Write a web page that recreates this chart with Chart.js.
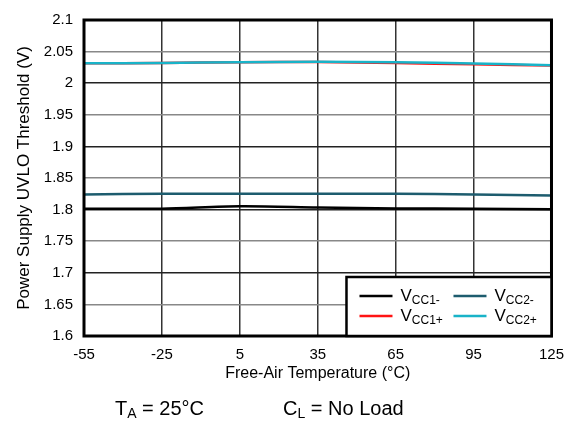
<!DOCTYPE html>
<html>
<head>
<meta charset="utf-8">
<script src="https://cdn.jsdelivr.net/npm/chart.js@4/dist/chart.umd.min.js"></script>
<style>
  html,body{margin:0;padding:0;background:#fff;}
  #wrap{width:574px;height:421px;}
</style>
</head>
<body>
<div id="wrap"><canvas id="uvlo-chart" width="574" height="421"></canvas></div>
<script>
/* UVLO threshold vs free-air temperature */

// ── data ──
var temps   = [-55, -25, 5, 35, 65, 95, 125];
var vcc1Neg = [1.8015, 1.8015, 1.8053, 1.8035, 1.8018, 1.8015, 1.8005];
var vcc1Pos = [2.0315, 2.0320, 2.0332, 2.0335, 2.0318, 2.0298, 2.0282];
var vcc2Neg = [1.8240, 1.8250, 1.8252, 1.8252, 1.8250, 1.8240, 1.8222];
var vcc2Pos = [2.0315, 2.0320, 2.0332, 2.0338, 2.0332, 2.0312, 2.0285];
var xTicks  = [-55, -25, 5, 35, 65, 95, 125];
var yTicks  = ['1.6','1.65','1.7','1.75','1.8','1.85','1.9','1.95','2','2.05','2.1'];

var FONT = 'Arial, "Liberation Sans", sans-serif';

function pts(ys){
  return temps.map(function(t,i){ return {x:t, y:ys[i]}; });
}

// legend entries: main letter + subscript
var legendItems = [
  {main:'V', sub:'CC1-', color:'#000000', col:0, row:0},
  {main:'V', sub:'CC1+', color:'#ff1414', col:0, row:1},
  {main:'V', sub:'CC2-', color:'#1d5c6e', col:1, row:0},
  {main:'V', sub:'CC2+', color:'#19b3c8', col:1, row:1}
];

function drawSubText(ctx, x, y, main, sub, rest, size){
  ctx.textBaseline='middle';
  ctx.textAlign='left';
  ctx.font=size+'px '+FONT;
  ctx.fillText(main, x, y);
  x += ctx.measureText(main).width;
  var subSize = Math.round(size*0.72);
  ctx.font=subSize+'px '+FONT;
  ctx.fillText(sub, x, y + size*0.28);
  x += ctx.measureText(sub).width;
  if(rest){
    ctx.font=size+'px '+FONT;
    ctx.fillText(rest, x, y);
  }
}

var framePlugin = {
  id:'frameAndLegend',
  afterDatasetsDraw:function(chart){
    var ctx=chart.ctx, a=chart.chartArea;
    ctx.save();
    // plot frame
    ctx.strokeStyle='#000';
    ctx.lineWidth=3;
    ctx.strokeRect(a.left, a.top, a.right-a.left, a.bottom-a.top);

    // legend box, bottom-right corner of the plot
    var bw=205, bh=59;
    var bx=a.right-bw, by=a.bottom-bh;
    ctx.fillStyle='#fff';
    ctx.fillRect(bx, by, bw, bh);
    ctx.lineWidth=2.5;
    ctx.strokeRect(bx, by, bw, bh);

    legendItems.forEach(function(it){
      var lx = bx + 13 + it.col*94;
      var ly = by + 19 + it.row*20;
      ctx.strokeStyle=it.color;
      ctx.lineWidth=2.5;
      ctx.beginPath();
      ctx.moveTo(lx, ly);
      ctx.lineTo(lx+33, ly);
      ctx.stroke();
      ctx.fillStyle='#000';
      drawSubText(ctx, lx+41, ly, it.main, it.sub, '', 17);
    });

    // conditions line under the axis title
    ctx.fillStyle='#000';
    drawSubText(ctx, 115, 409, 'T', 'A', ' = 25°C', 20);
    drawSubText(ctx, 283, 409, 'C', 'L', ' = No Load', 20);
    ctx.restore();
  }
};

var ds = function(label, data, color, order){
  return {
    label:label, data:pts(data), borderColor:color, backgroundColor:color,
    borderWidth:2.5, pointRadius:0, tension:0.3, fill:false, order:order
  };
};

new Chart(document.getElementById('uvlo-chart'), {
  type:'line',
  data:{
    datasets:[
      ds('VCC1-', vcc1Neg, '#000000', 3),
      ds('VCC1+', vcc1Pos, '#ff1414', 1),
      ds('VCC2-', vcc2Neg, '#1d5c6e', 2),
      ds('VCC2+', vcc2Pos, '#19b3c8', 0)
    ]
  },
  options:{
    responsive:false,
    animation:false,
    devicePixelRatio:1,
    layout:{padding:{left:0, right:21, top:12, bottom:36}},
    plugins:{legend:{display:false}, tooltip:{enabled:false}},
    scales:{
      x:{
        type:'linear', min:-55, max:125,
        afterBuildTicks:function(s){ s.ticks = xTicks.map(function(v){ return {value:v}; }); },
        afterFit:function(s){ s.height = 49; },
        grid:{color:'#333', lineWidth:1.5, drawTicks:false},
        border:{display:false},
        ticks:{color:'#000', padding:10, maxRotation:0, font:{family:FONT, size:15}},
        title:{display:true, text:'Free-Air Temperature (°C)', color:'#000',
               padding:{top:0, bottom:2}, font:{family:FONT, size:16}}
      },
      y:{
        min:1.6, max:2.1,
        afterBuildTicks:function(s){ s.ticks = yTicks.map(function(v){ return {value:parseFloat(v)}; }); },
        afterFit:function(s){ s.width = 84; },
        grid:{
          drawTicks:false, lineWidth:1.5,
          color:function(c){
            var v = c.tick ? Math.round(c.tick.value*100) : 0;
            return (v % 10 === 0) ? '#222' : '#888';
          }
        },
        border:{display:false},
        ticks:{
          color:'#000', padding:11, font:{family:FONT, size:15},
          callback:function(v, i){ return yTicks[i]; }
        },
        title:{display:true, text:'Power Supply UVLO Threshold (V)', color:'#000',
               padding:{top:14, bottom:0}, font:{family:FONT, size:17}}
      }
    }
  },
  plugins:[framePlugin]
});
</script>
</body>
</html>
